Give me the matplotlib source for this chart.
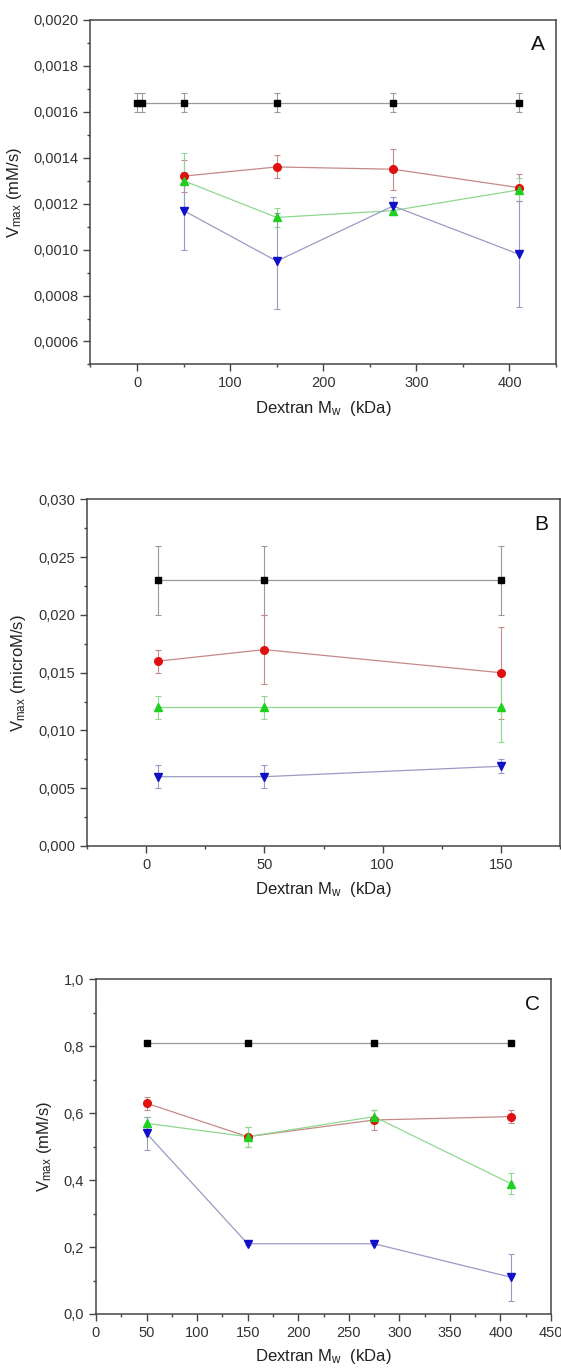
import matplotlib
matplotlib.use("Agg")
import matplotlib.pyplot as plt
from matplotlib.ticker import MultipleLocator, FuncFormatter

plt.rcParams['font.family'] = ['Liberation Sans', 'DejaVu Sans']
plt.rcParams['mathtext.fontset'] = 'custom'
plt.rcParams['mathtext.rm'] = 'Liberation Sans'
plt.rcParams['mathtext.it'] = 'Liberation Sans:italic'

# ==========================
# Panel A data (mM/s)
# ==========================
a_x_ctrl = [0, 5, 50, 150, 275, 410]
a_ctrl = [0.00164, 0.00164, 0.00164, 0.00164, 0.00164, 0.00164]
a_ctrl_err = [0.00004, 0.00004, 0.00004, 0.00004, 0.00004, 0.00004]

a_x = [50, 150, 275, 410]
a_red = [0.00132, 0.00136, 0.00135, 0.00127]
a_red_err = [0.00007, 0.00005, 0.00009, 0.00006]
a_green = [0.00130, 0.00114, 0.00117, 0.00126]
a_green_err = [0.00012, 0.00004, 0.00002, 0.00005]
a_blue = [0.00117, 0.00095, 0.00119, 0.00098]
a_blue_err = [0.00017, 0.00021, 0.00004, 0.00023]

# ==========================
# Panel B data (microM/s)
# ==========================
b_x = [5, 50, 150]
b_ctrl = [0.023, 0.023, 0.023]
b_ctrl_err = [0.003, 0.003, 0.003]
b_red = [0.016, 0.017, 0.015]
b_red_err = [0.001, 0.003, 0.004]
b_green = [0.012, 0.012, 0.012]
b_green_err = [0.001, 0.001, 0.003]
b_blue = [0.006, 0.006, 0.0069]
b_blue_err = [0.001, 0.001, 0.0006]

# ==========================
# Panel C data (mM/s)
# ==========================
c_x = [50, 150, 275, 410]
c_ctrl = [0.81, 0.81, 0.81, 0.81]
c_ctrl_err = [0.005, 0.005, 0.005, 0.005]
c_red = [0.63, 0.53, 0.58, 0.59]
c_red_err = [0.02, 0.03, 0.03, 0.02]
c_green = [0.57, 0.53, 0.59, 0.39]
c_green_err = [0.02, 0.03, 0.02, 0.03]
c_blue = [0.54, 0.21, 0.21, 0.11]
c_blue_err = [0.05, 0.005, 0.005, 0.07]

# marker colour, line/errorbar colour, marker shape, size
STYLES = {
    'ctrl': ('black', '#9a9a9a', 's', 5),
    'red': ('#e01010', '#c48a8a', 'o', 5.5),
    'green': ('#20d020', '#8fd88f', '^', 6),
    'blue': ('#1010c8', '#9a9ac4', 'v', 6),
}

AX_COLOR = '#454545'


def series(ax, x, y, err, key):
    mc, lc, mk, ms = STYLES[key]
    ax.errorbar(x, y, yerr=err, fmt='none', ecolor=lc, elinewidth=0.8,
                capsize=2.5, capthick=0.8, zorder=2)
    ax.plot(x, y, '-', color=lc, lw=0.9, zorder=3)
    ax.plot(x, y, mk, color=mc, ms=ms, mec=mc, zorder=4)


def style_axes(ax, decimals, ymajor, xmajor, ylabel, letter):
    for s in ax.spines.values():
        s.set_color(AX_COLOR)
        s.set_linewidth(1.1)
    ax.yaxis.set_major_locator(MultipleLocator(ymajor))
    ax.yaxis.set_minor_locator(MultipleLocator(ymajor / 2))
    ax.xaxis.set_major_locator(MultipleLocator(xmajor))
    ax.xaxis.set_minor_locator(MultipleLocator(xmajor / 2))
    ax.yaxis.set_major_formatter(
        FuncFormatter(lambda v, p: f"{v:.{decimals}f}".replace('.', ',')))
    ax.tick_params(which='major', direction='out', length=5, width=1.0,
                   color=AX_COLOR, labelsize=10.5, labelcolor='#333333')
    ax.tick_params(which='minor', direction='out', length=2.5, width=1.0,
                   color=AX_COLOR)
    ax.set_xlabel(r'Dextran M$_{\mathregular{w}}$  (kDa)', fontsize=12,
                  color='#222222', labelpad=6)
    ax.set_ylabel(ylabel, fontsize=12, color='#222222', labelpad=7)
    ax.text(0.975, 0.955, letter, transform=ax.transAxes, ha='right',
            va='top', fontsize=15, color='#111111')


fig = plt.figure(figsize=(5.61, 13.68), dpi=100)

# ==========================
# Panel A
# ==========================
axA = fig.add_axes([0.1613, 0.7336, 0.8298, 0.2518])
series(axA, a_x_ctrl, a_ctrl, a_ctrl_err, 'ctrl')
series(axA, a_x, a_red, a_red_err, 'red')
series(axA, a_x, a_green, a_green_err, 'green')
series(axA, a_x, a_blue, a_blue_err, 'blue')
axA.set_xlim(-50, 450)
axA.set_ylim(0.0005, 0.0020)
style_axes(axA, 4, 0.0002, 100, r'V$_{\mathregular{max}}$ (mM/s)', 'A')

# ==========================
# Panel B
# ==========================
axB = fig.add_axes([0.1551, 0.3816, 0.8431, 0.2533])
series(axB, b_x, b_ctrl, b_ctrl_err, 'ctrl')
series(axB, b_x, b_red, b_red_err, 'red')
series(axB, b_x, b_green, b_green_err, 'green')
series(axB, b_x, b_blue, b_blue_err, 'blue')
axB.set_xlim(-25, 175)
axB.set_ylim(0.0, 0.030)
style_axes(axB, 3, 0.005, 50, r'V$_{\mathregular{max}}$ (microM/s)', 'B')

# ==========================
# Panel C
# ==========================
axC = fig.add_axes([0.1711, 0.0395, 0.8111, 0.2445])
series(axC, c_x, c_ctrl, c_ctrl_err, 'ctrl')
series(axC, c_x, c_red, c_red_err, 'red')
series(axC, c_x, c_green, c_green_err, 'green')
series(axC, c_x, c_blue, c_blue_err, 'blue')
axC.set_xlim(0, 450)
axC.set_ylim(0.0, 1.0)
style_axes(axC, 1, 0.2, 50, r'V$_{\mathregular{max}}$ (mM/s)', 'C')
axC.xaxis.set_minor_locator(MultipleLocator(25))
axC.set_xlabel(r'Dextran M$_{\mathregular{w}}$  (kDa)', fontsize=12,
               color='#222222', labelpad=5)

plt.savefig("out.png", dpi=100)
